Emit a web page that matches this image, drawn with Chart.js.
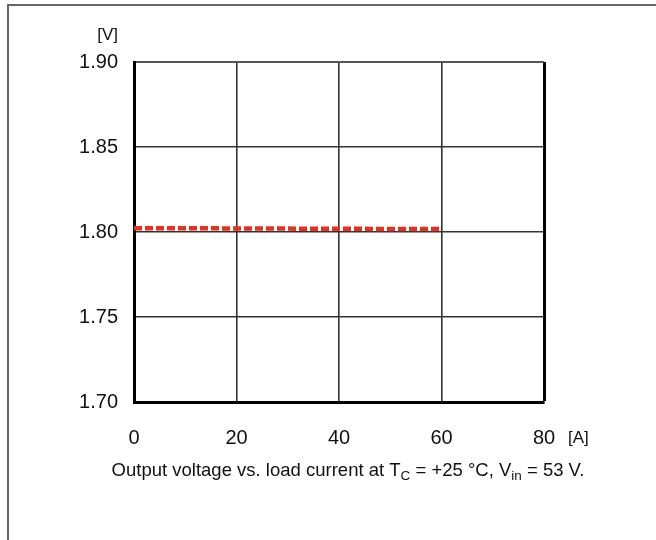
<!DOCTYPE html>
<html>
<head>
<meta charset="utf-8">
<script src="https://cdn.jsdelivr.net/npm/chart.js@4/dist/chart.umd.min.js"></script>
<style>
  html, body { margin: 0; padding: 0; background: #fff; }
  #wrap { width: 656px; height: 540px; }
</style>
</head>
<body>
<div id="wrap"><canvas id="voutChart" width="656" height="540"></canvas></div>
<script>
// values
const loadCurrent = [0, 10, 20, 30, 40, 50, 60];
const outputVoltage = [1.8022, 1.8022, 1.8021, 1.8020, 1.8019, 1.8018, 1.8017];
const xTickValues = [0, 20, 40, 60, 80];
const yTickValues = [1.70, 1.75, 1.80, 1.85, 1.90];

const FONT = '"Liberation Sans", Arial, Helvetica, sans-serif';

// outer frame, unit labels and caption
const decorPlugin = {
    id: 'decor',
    beforeDraw(chart) {
        const c = chart.ctx;
        c.save();
        c.fillStyle = '#fff';
        c.fillRect(0, 0, chart.width, chart.height);
        c.strokeStyle = '#666';
        c.lineWidth = 2;
        c.beginPath();
        c.moveTo(8, 540);
        c.lineTo(8, 5);
        c.lineTo(656, 5);
        c.stroke();
        c.restore();
    },
    afterDraw(chart) {
        const c = chart.ctx;
        const area = chart.chartArea;
        c.save();
        c.fillStyle = '#111';
        c.font = '17px ' + FONT;
        c.textBaseline = 'middle';
        c.textAlign = 'right';
        c.fillText('[V]', area.left - 16, 35);
        c.textAlign = 'left';
        c.fillText('[A]', area.right + 24, 438);

        // caption with subscripts
        const base = 476;
        const parts = [
            ['Output voltage vs. load current at T', 18.5, 0],
            ['C', 13.5, 4],
            [' = +25 \u00b0C, V', 18.5, 0],
            ['in', 13.5, 4],
            [' = 53 V.', 18.5, 0]
        ];
        c.textBaseline = 'alphabetic';
        let total = 0;
        parts.forEach(p => { c.font = p[1] + 'px ' + FONT; total += c.measureText(p[0]).width; });
        let x = 348 - total / 2;
        parts.forEach(p => {
            c.font = p[1] + 'px ' + FONT;
            c.fillText(p[0], x, base + p[2]);
            x += c.measureText(p[0]).width;
        });
        c.restore();
    }
};

const ctx = document.getElementById('voutChart').getContext('2d');
const voutChart = new Chart(ctx, {
    type: 'line',
    data: {
        datasets: [{
            data: loadCurrent.map((a, i) => ({ x: a, y: outputVoltage[i] })),
            borderColor: '#e8301f',
            borderWidth: 4.5,
            borderDash: [8, 3],
            pointRadius: 0,
            tension: 0,
            fill: false
        }]
    },
    options: {
        responsive: false,
        animation: false,
        layout: { padding: { left: 74, top: 62, right: 112, bottom: 78 } },
        plugins: { legend: { display: false }, tooltip: { enabled: false } },
        scales: {
            x: {
                type: 'linear',
                min: 0,
                max: 80,
                afterFit: s => { s.height = 60; },
                afterBuildTicks: s => { s.ticks = xTickValues.map(v => ({ value: v })); },
                ticks: { color: '#111', font: { size: 20, family: FONT }, padding: 24, maxRotation: 0 },
                grid: {
                    drawTicks: false,
                    color: c => c.tick && c.tick.value === 80 ? '#000' : '#333',
                    lineWidth: c => c.tick && c.tick.value === 80 ? 3 : 1.6
                },
                border: { color: '#000', width: 3 }
            },
            y: {
                type: 'linear',
                min: 1.70,
                max: 1.90,
                afterFit: s => { s.width = 60; },
                afterBuildTicks: s => { s.ticks = yTickValues.map(v => ({ value: v })); },
                ticks: {
                    color: '#111',
                    font: { size: 20, family: FONT },
                    padding: 16,
                    callback: v => Number(v).toFixed(2)
                },
                grid: {
                    drawTicks: false,
                    color: c => c.tick && Math.abs(c.tick.value - 1.9) < 1e-6 ? '#555' : '#333',
                    lineWidth: c => c.tick && Math.abs(c.tick.value - 1.9) < 1e-6 ? 2 : 1.6
                },
                border: { color: '#000', width: 3 }
            }
        }
    },
    plugins: [decorPlugin]
});
</script>
</body>
</html>
